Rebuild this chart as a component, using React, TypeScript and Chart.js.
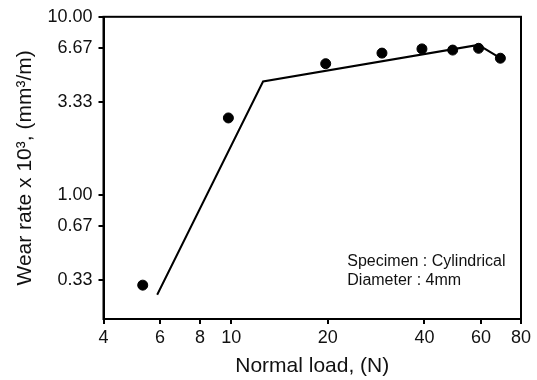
import React, { useEffect, useRef } from "react";
import { Chart, registerables } from "chart.js";

Chart.register(...registerables);

// Measured wear-rate points (Normal load N, wear rate x10^3 mm^3/m)
const pointLoads = [5.3, 9.8, 19.7, 29.5, 39.3, 49, 59, 69];
const pointRates = [0.31, 2.7, 5.45, 6.25, 6.6, 6.5, 6.65, 5.85];

// Fitted trend line
const lineLoads = [5.88, 12.57, 58.9, 69];
const lineRates = [0.274, 4.33, 6.95, 5.85];

const xTicks = [4, 6, 8, 10, 20, 40, 60, 80];
const yTicks = [0.33, 0.67, 1.0, 3.33, 6.67, 10.0];

const annotationLines = ["Specimen : Cylindrical", "Diameter : 4mm"];
const annotationX = 23;
const annotationY = [0.42, 0.33];

const FONT = "'Liberation Sans', Arial, Helvetica, sans-serif";

export default function App() {
  const ref = useRef<HTMLCanvasElement | null>(null);

  useEffect(() => {
    document.body.style.margin = "0";
    const canvas = ref.current;
    if (!canvas) return;

    const framePlugin = {
      id: "frame",
      afterDraw(chart: any) {
        const { ctx, chartArea } = chart;
        ctx.save();
        ctx.strokeStyle = "#000";
        ctx.lineWidth = 2;
        ctx.strokeRect(
          chartArea.left,
          chartArea.top,
          chartArea.right - chartArea.left,
          chartArea.bottom - chartArea.top
        );
        const xs = chart.scales.x;
        const ys = chart.scales.y;
        ctx.fillStyle = "#111";
        ctx.font = `16px ${FONT}`;
        ctx.textAlign = "left";
        ctx.textBaseline = "middle";
        annotationLines.forEach((t, i) => {
          ctx.fillText(t, xs.getPixelForValue(annotationX), ys.getPixelForValue(annotationY[i]));
        });
        ctx.restore();
      },
    };

    const chart = new Chart(canvas, {
      type: "scatter",
      data: {
        datasets: [
          {
            type: "line",
            data: lineLoads.map((x, i) => ({ x, y: lineRates[i] })),
            borderColor: "#000",
            borderWidth: 2,
            pointRadius: 0,
            fill: false,
            tension: 0,
          },
          {
            type: "scatter",
            data: pointLoads.map((x, i) => ({ x, y: pointRates[i] })),
            backgroundColor: "#000",
            borderColor: "#000",
            pointRadius: 5,
          },
        ],
      },
      options: {
        animation: false,
        responsive: false,
        maintainAspectRatio: false,
        layout: { padding: { top: 15, right: 16, left: 0, bottom: 0 } },
        plugins: {
          legend: { display: false },
          tooltip: { enabled: false },
        },
        scales: {
          x: {
            type: "logarithmic",
            min: 4,
            max: 80,
            afterBuildTicks: (s: any) => {
              s.ticks = xTicks.map((v) => ({ value: v }));
            },
            afterFit: (s: any) => {
              s.height = 61;
            },
            ticks: {
              autoSkip: false,
              maxRotation: 0,
              color: "#111",
              font: { family: FONT, size: 18 },
              padding: 3,
              callback: (v: any) => String(v),
            },
            grid: {
              display: true,
              drawOnChartArea: false,
              drawTicks: true,
              tickLength: 5,
              color: "#000",
              lineWidth: 2,
            },
            border: { display: true, color: "#000", width: 2 },
            title: {
              display: true,
              text: "Normal load, (N)",
              color: "#111",
              font: { family: FONT, size: 21 },
              padding: { top: 0, bottom: 1 },
            },
          },
          y: {
            type: "logarithmic",
            min: 0.2,
            max: 10,
            afterBuildTicks: (s: any) => {
              s.ticks = yTicks.map((v) => ({ value: v }));
            },
            afterFit: (s: any) => {
              s.width = 103.5;
            },
            ticks: {
              autoSkip: false,
              color: "#111",
              font: { family: FONT, size: 18 },
              padding: 6,
              callback: (v: any) => Number(v).toFixed(2),
            },
            grid: {
              display: true,
              drawOnChartArea: false,
              drawTicks: true,
              tickLength: 5,
              color: "#000",
              lineWidth: 2,
            },
            border: { display: true, color: "#000", width: 2 },
            title: {
              display: true,
              text: "Wear rate x 10³, (mm³/m)",
              color: "#111",
              font: { family: FONT, size: 21 },
              padding: { top: 13, bottom: 0 },
            },
          },
        },
      },
      plugins: [framePlugin],
    } as any);

    return () => chart.destroy();
  }, []);

  return (
    <div style={{ width: 537, height: 380 }}>
      <canvas ref={ref} width={537} height={380} style={{ display: "block" }} />
    </div>
  );
}
